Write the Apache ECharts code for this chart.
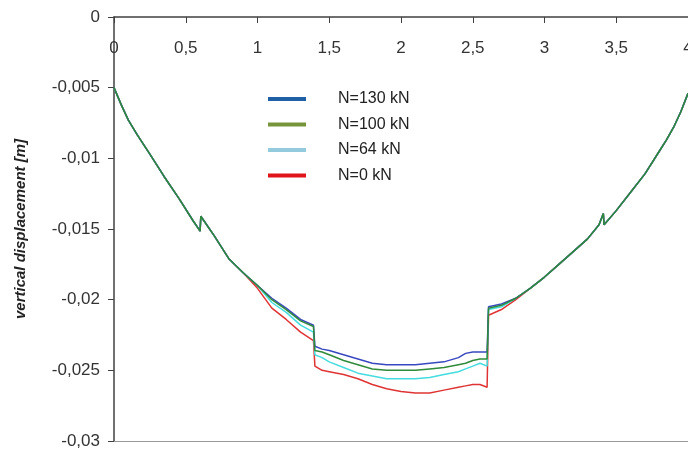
<!DOCTYPE html>
<html>
<head>
<meta charset="utf-8">
<script src="https://cdn.jsdelivr.net/npm/echarts@6/dist/echarts.min.js"></script>
<style>
  html, body { margin: 0; padding: 0; background: #fff; }
  #main { width: 688px; height: 450px; }
</style>
</head>
<body>
<div id="main"></div>
<script>
// distance along the section [m]
const dist = [0, 0.05, 0.10, 0.16, 0.25, 0.35, 0.45, 0.55, 0.60, 0.605, 0.70, 0.80, 0.90, 1.00,
  1.10, 1.20, 1.30, 1.39, 1.40, 1.45, 1.50, 1.60, 1.70, 1.80, 1.90, 2.00, 2.10, 2.20, 2.30, 2.40,
  2.45, 2.50, 2.55, 2.60, 2.61, 2.70, 2.80, 2.90, 3.00, 3.10, 3.20, 3.30, 3.38, 3.41, 3.415,
  3.50, 3.60, 3.70, 3.80, 3.85, 3.90, 3.95, 4.00]

// vertical displacement [m] for each axial load
const n130 = [-0.0050, -0.0062, -0.0073, -0.0083, -0.0097, -0.0113, -0.0128, -0.0144, -0.01515, -0.0141, -0.0155, -0.0171, -0.0181, -0.0190,
  -0.0199, -0.0206, -0.0214, -0.0218, -0.0233, -0.0235, -0.0236, -0.0239, -0.0242, -0.0245, -0.0246, -0.0246, -0.0246, -0.0245, -0.0244, -0.0241,
  -0.0238, -0.0237, -0.0237, -0.0237, -0.0205, -0.0203, -0.0199, -0.0192, -0.0184, -0.0175, -0.0166, -0.0157, -0.0147, -0.0139, -0.0147,
  -0.0137, -0.0124, -0.0111, -0.0095, -0.0087, -0.0078, -0.0067, -0.0054]
const n100 = [-0.0050, -0.0062, -0.0073, -0.0083, -0.0097, -0.0113, -0.0128, -0.0144, -0.01515, -0.0141, -0.0155, -0.0171, -0.0181, -0.0190,
  -0.0200, -0.0207, -0.0215, -0.0219, -0.0236, -0.0237, -0.0239, -0.0243, -0.0246, -0.0249, -0.0250, -0.0250, -0.0250, -0.0249, -0.0248, -0.0246,
  -0.0245, -0.0243, -0.0242, -0.0242, -0.0206, -0.0204, -0.0199, -0.0192, -0.0184, -0.0175, -0.0166, -0.0157, -0.0147, -0.0139, -0.0147,
  -0.0137, -0.0124, -0.0111, -0.0095, -0.0087, -0.0078, -0.0067, -0.0054]
const n64 = [-0.0050, -0.0062, -0.0073, -0.0083, -0.0097, -0.0113, -0.0128, -0.0144, -0.01515, -0.0141, -0.0155, -0.0171, -0.0181, -0.0190,
  -0.0202, -0.0209, -0.0218, -0.0223, -0.0239, -0.0241, -0.0244, -0.0248, -0.0252, -0.0254, -0.0256, -0.0256, -0.0256, -0.0255, -0.0253, -0.0251,
  -0.0249, -0.0247, -0.0245, -0.0247, -0.0207, -0.0205, -0.0199, -0.0192, -0.0184, -0.0175, -0.0166, -0.0157, -0.0147, -0.0139, -0.0147,
  -0.0137, -0.0124, -0.0111, -0.0095, -0.0087, -0.0078, -0.0067, -0.0054]
const n0 = [-0.0050, -0.0062, -0.0073, -0.0083, -0.0097, -0.0113, -0.0128, -0.0144, -0.01515, -0.0141, -0.0155, -0.0171, -0.0181, -0.0192,
  -0.0206, -0.0214, -0.0223, -0.0229, -0.0247, -0.0250, -0.0251, -0.0253, -0.0256, -0.0260, -0.0263, -0.0265, -0.0266, -0.0266, -0.0264, -0.0262,
  -0.0261, -0.0260, -0.0260, -0.0262, -0.0211, -0.0207, -0.0200, -0.0192, -0.0184, -0.0175, -0.0166, -0.0157, -0.0147, -0.0139, -0.0147,
  -0.0137, -0.0124, -0.0111, -0.0095, -0.0087, -0.0078, -0.0067, -0.0054]

const seriesNames = ['N=130 kN', 'N=100 kN', 'N=64 kN', 'N=0 kN']
const xTicks = [0, 0.5, 1, 1.5, 2, 2.5, 3, 3.5, 4]

// decimal comma like the original
const fmt = v => String(Number(v.toFixed(4))).replace('.', ',')

const pairs = arr => dist.map((x, i) => [x, arr[i]])

const chartInstance = echarts.init(document.getElementById('main'))

const lineColors = ['#3a48c0', '#2f8a3a', '#45dce0', '#e03434']
const legendColors = ['#1f5fa6', '#76953a', '#93cade', '#e0141b']
const allData = [n130, n100, n64, n0]
const zOrder = [4, 5, 3, 2]

const initOption = {
  animation: false,
  backgroundColor: '#fff',
  grid: {
    left: 114,
    right: 0,
    top: 17,
    bottom: 9,
    // keep the plot at its place, the "4" label may run off the page
    outerBoundsMode: 'none'
  },
  legend: {
    orient: 'vertical',
    left: 263,
    top: 86,
    itemWidth: 38,
    itemHeight: 4,
    itemGap: 9.5,
    icon: 'rect',
    data: seriesNames.map((name, i) => ({ name, itemStyle: { color: legendColors[i] } })),
    textStyle: {
      fontFamily: 'Liberation Sans, Arial, sans-serif',
      fontSize: 16,
      color: '#222',
      padding: [0, 0, 0, 27]
    }
  },
  xAxis: [{
    type: 'value',
    position: 'top',
    min: 0,
    max: 4,
    interval: 0.5,
    axisLine: { show: true, onZero: false, lineStyle: { color: '#404040', width: 1.5 } },
    axisTick: { show: true, inside: true, length: 6, lineStyle: { color: '#404040' } },
    axisLabel: {
      inside: true,
      margin: 23,
      fontFamily: 'Liberation Sans, Arial, sans-serif',
      fontSize: 17,
      color: '#333',
      showMaxLabel: true,
      formatter: v => (xTicks.includes(v) ? fmt(v) : '')
    },
    splitLine: { show: false }
  }, {
    // bottom border at -0,03
    type: 'value',
    position: 'bottom',
    min: 0,
    max: 4,
    axisLine: { show: true, onZero: false, lineStyle: { color: '#999', width: 1 } },
    axisTick: { show: false },
    axisLabel: { show: false },
    splitLine: { show: false }
  }],
  yAxis: {
    type: 'value',
    min: -0.03,
    max: 0,
    interval: 0.005,
    name: 'vertical displacement [m]',
    nameLocation: 'middle',
    nameGap: 86,
    nameTextStyle: {
      fontFamily: 'Liberation Sans, Arial, sans-serif',
      fontSize: 15,
      fontStyle: 'italic',
      fontWeight: 'bold',
      color: '#222'
    },
    axisLine: { show: true, onZero: false, lineStyle: { color: '#404040', width: 1.5 } },
    axisTick: { show: true, length: 6, lineStyle: { color: '#404040' } },
    axisLabel: {
      margin: 14,
      fontFamily: 'Liberation Sans, Arial, sans-serif',
      fontSize: 17,
      color: '#333',
      formatter: v => fmt(v)
    },
    splitLine: { show: false }
  },
  series: seriesNames.map((name, i) => ({
    name,
    type: 'line',
    xAxisIndex: 0,
    symbol: 'none',
    z: zOrder[i],
    itemStyle: { color: legendColors[i] },
    lineStyle: { color: lineColors[i], width: 1.5 },
    data: pairs(allData[i])
  }))
}

chartInstance.setOption(initOption)
</script>
</body>
</html>
